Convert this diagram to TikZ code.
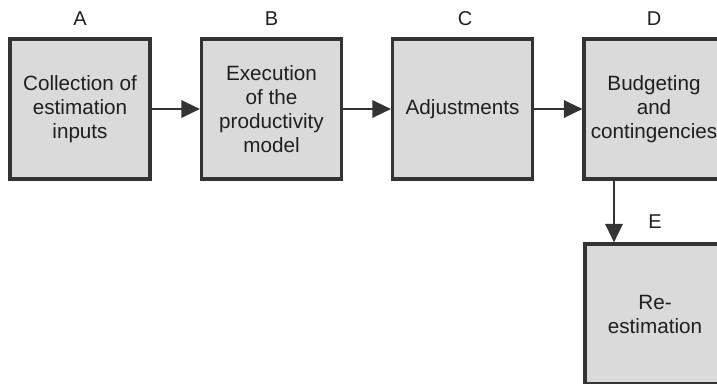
\documentclass[tikz,border=0pt]{standalone}
\usepackage{fontspec}
\setmainfont{Liberation Sans}
\usetikzlibrary{arrows.meta}
\definecolor{boxfill}{HTML}{DADADA}
\definecolor{boxline}{HTML}{333333}
\begin{document}
\begin{tikzpicture}[x=0.75pt,y=-0.75pt,
  stage/.style={draw=boxline, line width=2.3pt, fill=boxfill,
    minimum width=105pt, minimum height=105pt, inner sep=0pt,
    align=center, font=\fontsize{15.5}{18}\selectfont, text=black!88},
  tag/.style={font=\fontsize{15}{18}\selectfont, text=black!88},
  flow/.style={draw=boxline, line width=1.7pt,
    -{Triangle[length=14pt,width=13pt]}}]
\useasboundingbox (0,0) rectangle (717,383);
% processing stages
\node[stage] (A) at (80,109)  {Collection of\\estimation\\inputs};
\node[stage] (B) at (271.5,109) {Execution\\of the\\productivity\\model};
\node[stage] (C) at (462.5,109) {Adjustments};
\node[stage] (D) at (654,109) {Budgeting\\and\\contingencies};
\node[stage] (E) at (655,314) {Re-\\estimation};
% stage letters
\node[tag] (la) at (80,19)  {A};
\node[tag] (lb) at (271.5,19) {B};
\node[tag] (lc) at (465,19) {C};
\node[tag] (ld) at (654,19) {D};
\node[tag] (le) at (655,222) {E};
% connectors
\draw[flow] (A.east) -- (B.west);
\draw[flow] (B.east) -- (C.west);
\draw[flow] (C.east) -- (D.west);
\draw[flow] ([xshift=-30pt]D.south) -- ([xshift=-30pt]D.south |- E.north);
\end{tikzpicture}
\end{document}
